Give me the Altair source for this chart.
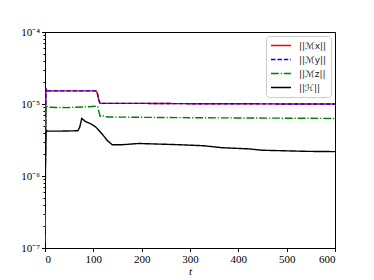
import altair as alt
import pandas as pd

# series labels
labels = ["||ℳx||", "||ℳy||", "||ℳz||", "||ℋ||"]
colors = ["#ff0000", "#0000ff", "#008000", "#000000"]
dashes = [[1, 0], [4.5, 1.9], [7.8, 1.9, 1.2, 1.9], [1, 0]]

# Mx / My (nearly identical)
t_m = [0, 1, 2, 3, 5, 20, 50, 80, 105, 108, 111, 114, 120, 200, 300, 400, 500, 600]
mx = [2.0e-7, 3.0e-6, 1.65e-5, 1.55e-5, 1.52e-5, 1.52e-5, 1.52e-5, 1.52e-5, 1.52e-5,
      1.45e-5, 1.15e-5, 1.02e-5, 1.02e-5, 1.02e-5, 1.01e-5, 1.01e-5, 1.0e-5, 1.0e-5]
my = [2.0e-7, 3.0e-6, 1.65e-5, 1.55e-5, 1.52e-5, 1.52e-5, 1.52e-5, 1.52e-5, 1.52e-5,
      1.45e-5, 1.15e-5, 1.02e-5, 1.02e-5, 1.02e-5, 1.01e-5, 1.01e-5, 1.0e-5, 1.0e-5]

# Mz
t_z = [0, 1, 2, 3, 10, 43, 80, 105, 109, 112, 114, 118, 130, 180, 300, 400, 500, 600]
mz = [1.2e-7, 1.5e-6, 9.5e-6, 9.3e-6, 9.0e-6, 8.9e-6, 9.1e-6, 9.3e-6, 9.2e-6,
      7.6e-6, 6.75e-6, 6.9e-6, 6.6e-6, 6.55e-6, 6.45e-6, 6.4e-6, 6.35e-6, 6.3e-6]

# H
t_h = [0, 1, 2, 3, 5, 30, 68, 72, 76, 84, 95, 105, 120, 129, 139, 160, 194, 277, 329,
       367, 422, 449, 484, 540, 600]
hh = [3.0e-7, 1.5e-6, 4.0e-6, 4.3e-6, 4.2e-6, 4.2e-6, 4.25e-6, 4.8e-6, 6.3e-6, 5.7e-6,
      5.3e-6, 4.8e-6, 3.7e-6, 3.1e-6, 2.72e-6, 2.72e-6, 2.83e-6, 2.72e-6, 2.63e-6,
      2.47e-6, 2.38e-6, 2.28e-6, 2.25e-6, 2.2e-6, 2.18e-6]

# tick values
x_ticks = [0, 100, 200, 300, 400, 500, 600]
y_ticks = [m * 10.0 ** k for k in (-7, -6, -5) for m in range(1, 10)] + [1e-4]

rows = []
for name, ts, vs, order in [(labels[0], t_m, mx, 0), (labels[1], t_m, my, 1),
                            (labels[2], t_z, mz, 2), (labels[3], t_h, hh, 3)]:
    for t, v in zip(ts, vs):
        rows.append({"t": t, "v": v, "s": name, "o": order})
df = pd.DataFrame(rows)

is_major = "abs(log(datum.value)/LN10 - round(log(datum.value)/LN10)) < 0.01"
lab_expr = ("!(" + is_major + ") ? '' : "
            "round(log(datum.value)/LN10) == -4 ? '10⁻⁴' : "
            "round(log(datum.value)/LN10) == -5 ? '10⁻⁵' : "
            "round(log(datum.value)/LN10) == -6 ? '10⁻⁶' : "
            "round(log(datum.value)/LN10) == -7 ? '10⁻⁷' : ''")

font = "Liberation Serif"

chart = alt.Chart(df).mark_line(strokeWidth=1.4, clip=True).encode(
    x=alt.X("t:Q", scale=alt.Scale(domain=[0, 600], nice=False, zero=False),
            axis=alt.Axis(values=x_ticks, title="t", titleFontStyle="italic",
                          titleFont=font, titleFontSize=11, titleFontWeight="normal",
                          titlePadding=1, labelFont=font, labelFontSize=11,
                          tickSize=3.5, labelPadding=2, grid=False,
                          domainColor="black", tickColor="black", labelColor="black",
                          titleColor="black", format="d")),
    y=alt.Y("v:Q", scale=alt.Scale(type="log", domain=[1e-7, 1e-4], nice=False),
            axis=alt.Axis(values=y_ticks, title=None, labelExpr=lab_expr,
                          labelFont=font, labelFontSize=11, labelOverlap=False,
                          tickSize={"condition": {"test": is_major, "value": 3.5}, "value": 2},
                          labelPadding=2, grid=False, domainColor="black",
                          tickColor="black", labelColor="black")),
    color=alt.Color("s:N", scale=alt.Scale(domain=labels, range=colors),
                    legend=alt.Legend(title=None, orient="top-right", offset=4,
                                      symbolType="stroke", symbolSize=400,
                                      symbolStrokeWidth=1.4, labelFont="DejaVu Sans",
                                      labelFontSize=9, labelColor="#222222",
                                      fillColor="white", strokeColor="#cccccc",
                                      cornerRadius=3, padding=4, rowPadding=3,
                                      clipHeight=11, labelOffset=7)),
    strokeDash=alt.StrokeDash("s:N", scale=alt.Scale(domain=labels, range=dashes),
                              legend=alt.Legend(title=None, orient="top-right")),
    order=alt.Order("o:Q"),
    detail="s:N",
).properties(
    width=290, height=216,
    padding={"left": 12, "top": 18, "right": 5, "bottom": 5},
).configure_view(stroke="black", strokeWidth=1)

chart.save("out.html", embed_options={"renderer": "svg", "actions": False})
